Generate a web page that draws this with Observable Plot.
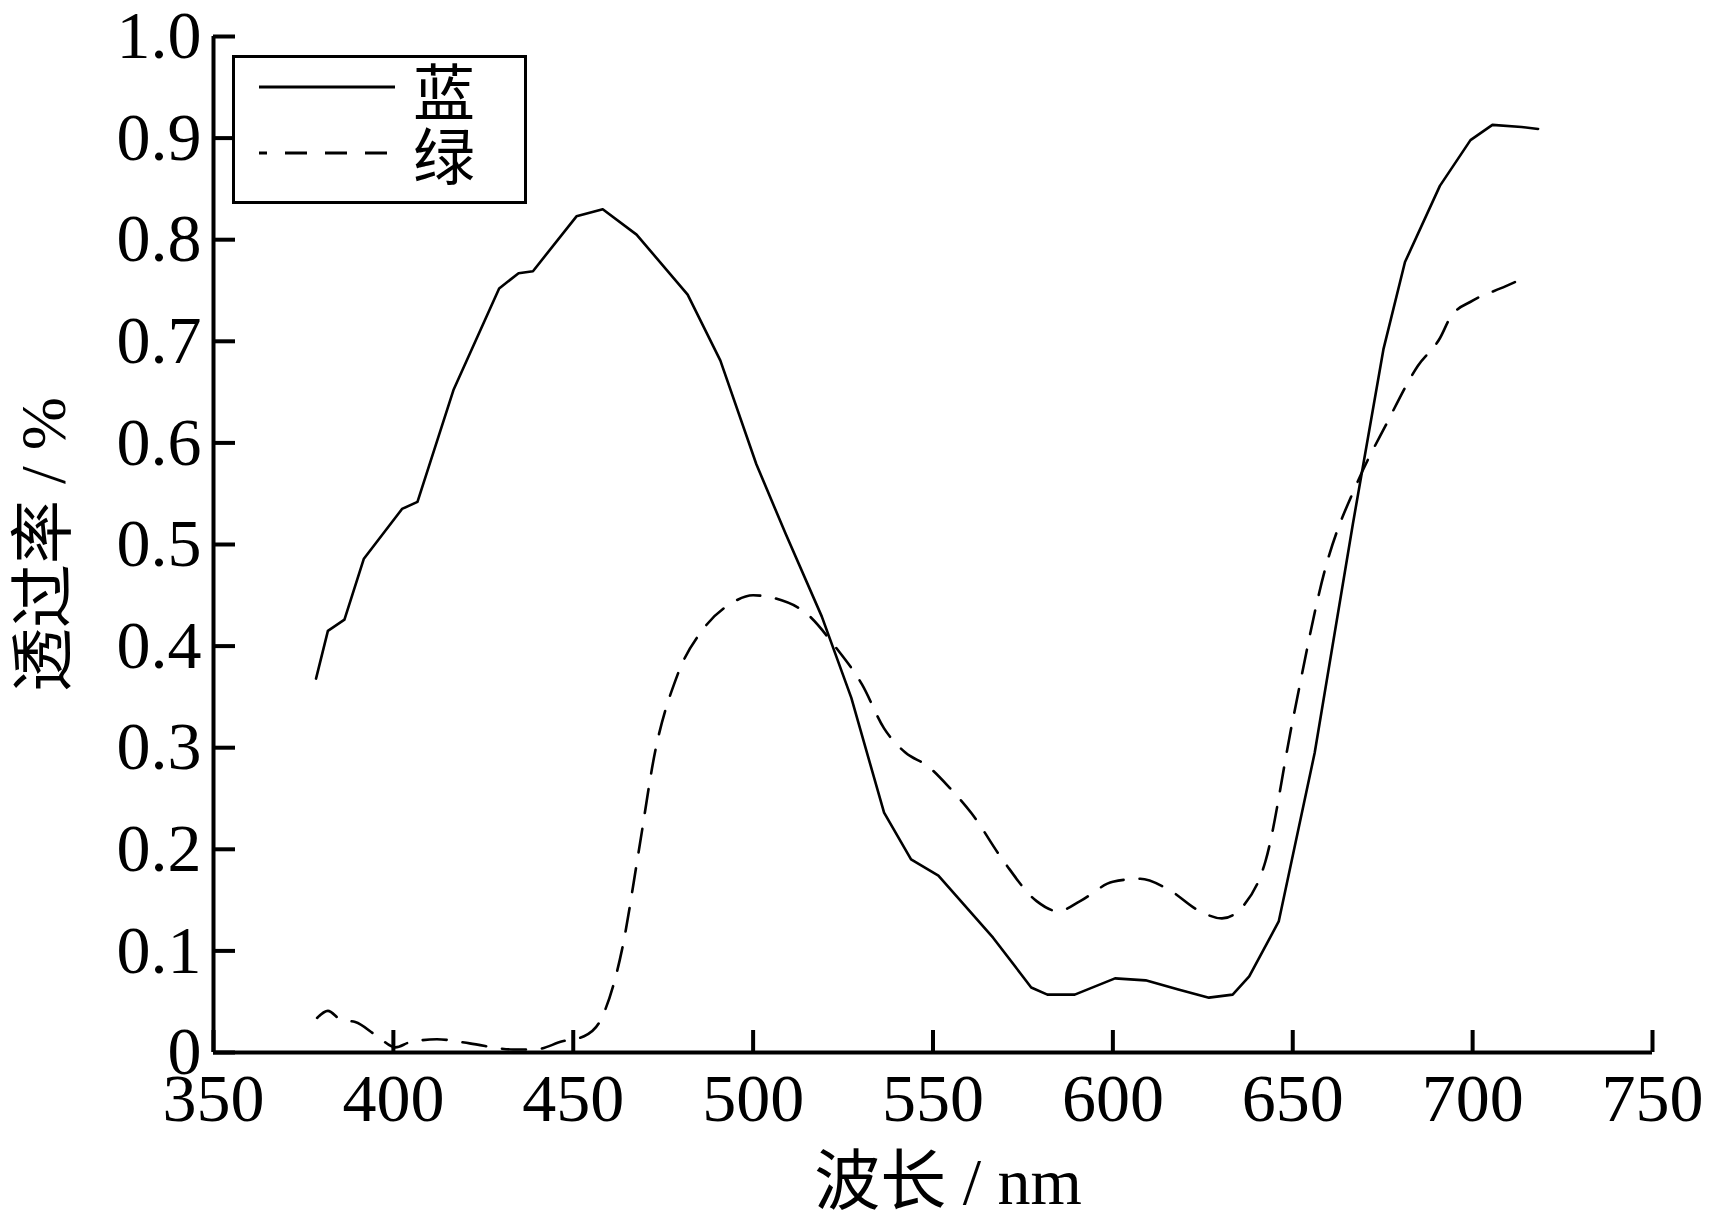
<!DOCTYPE html>
<html><head><meta charset="utf-8">
<script src="https://cdn.jsdelivr.net/npm/d3@7"></script>
<script src="https://cdn.jsdelivr.net/npm/@observablehq/plot@0.6"></script>
<style>
html,body{margin:0;padding:0;background:#fff;}
#wrap{position:relative;width:1710px;height:1227px;}
#legend{position:absolute;left:232px;top:55px;width:289px;height:143px;border:3px solid #000;background:#fff;box-sizing:content-box;}
#legend .lab{position:absolute;left:178px;font-family:"Noto Sans CJK SC";font-size:62px;line-height:62px;color:#000;}
</style></head>
<body><div id="wrap"><div id="legend">
<svg width="170" height="143" style="position:absolute;left:0;top:0">
<line x1="24" x2="160" y1="29" y2="29" stroke="#000" stroke-width="3"/>
<line x1="24" x2="160" y1="95" y2="95" stroke="#000" stroke-width="3" stroke-dasharray="8,18,22,18,22,18,22,18"/>
</svg>
<div class="lab" style="top:0px">蓝</div>
<div class="lab" style="top:64px">绿</div>
</div></div>
<script>
const blueX = [378.5,381.8,386.4,391.8,402.4,406.7,416.7,429.4,434.8,438.8,450.9,458.2,467.6,481.8,490.9,500.9,509.1,519.1,527.3,536.4,543.9,551.5,566.7,577.3,581.8,589.4,600.6,609.1,618.2,626.7,633.3,637.9,646.1,656.1,666.7,675.2,681.2,690.9,699.4,705.5,713.6,718.2];
const blueY = [0.368,0.415,0.426,0.486,0.535,0.542,0.652,0.752,0.767,0.769,0.823,0.830,0.805,0.746,0.681,0.579,0.510,0.429,0.349,0.236,0.190,0.174,0.113,0.064,0.057,0.057,0.073,0.071,0.062,0.054,0.057,0.075,0.129,0.295,0.520,0.692,0.778,0.853,0.898,0.913,0.911,0.909];
const greenX = [378.8,381.8,385.5,389.4,395.5,400.6,404.5,412.1,421.2,433.3,439.4,447.0,453.0,457.6,463.6,468.2,472.7,478.8,486.4,493.9,500,506.1,515.2,522.7,530.3,536.4,542.4,548.5,554.5,560.6,569.7,578.8,584.8,590.9,600,607.6,615.2,624.2,630.3,636.4,642.4,650,659.1,668.2,675.8,684.8,690.9,693.9,700,709.1,715.2];
const greenY = [0.034,0.041,0.032,0.030,0.016,0.005,0.010,0.013,0.009,0.003,0.003,0.011,0.016,0.032,0.102,0.198,0.295,0.370,0.418,0.442,0.450,0.447,0.431,0.400,0.362,0.319,0.295,0.282,0.261,0.236,0.188,0.149,0.139,0.149,0.168,0.171,0.161,0.139,0.132,0.145,0.188,0.327,0.477,0.563,0.617,0.676,0.703,0.724,0.740,0.754,0.764];
const xTicks = [350,400,450,500,550,600,650,700,750];
const yTicks = [0,0.1,0.2,0.3,0.4,0.5,0.6,0.7,0.8,0.9,1.0];
const yTickLabels = ["0","0.1","0.2","0.3","0.4","0.5","0.6","0.7","0.8","0.9","1.0"];
const xTitle = "波长 / nm";
const yTitle = "透过率 / %";

const blue = blueX.map((x,i)=>({x, y: blueY[i]}));
const green = greenX.map((x,i)=>({x, y: greenY[i]}));

const chart = Plot.plot({
  width: 1710, height: 1227,
  marginLeft: 213, marginRight: 58, marginTop: 36, marginBottom: 175,
  style: {fontFamily: "'Liberation Serif', 'Noto Sans CJK SC', serif", fontSize: "68px", color: "#000", background: "#fff"},
  x: {domain: [350, 750]},
  y: {domain: [0, 1]},
  marks: [
    Plot.line(green, {x: "x", y: "y", stroke: "#000", strokeWidth: 2.6, strokeDasharray: "24,16", curve: "monotone-x"}),
    Plot.line(blue, {x: "x", y: "y", stroke: "#000", strokeWidth: 2.6, curve: "linear"}),
    Plot.ruleY([0], {stroke: "#000", strokeWidth: 4}),
    Plot.ruleX([350], {y1: 0, y2: 1, stroke: "#000", strokeWidth: 4}),
    Plot.ruleX(xTicks, {x: d => d, y1: 0, y2: 0, insetTop: -22, stroke: "#000", strokeWidth: 4}),
    Plot.ruleY(yTicks, {y: d => d, x1: 350, x2: 350, insetRight: -22, stroke: "#000", strokeWidth: 4}),
    Plot.axisX(xTicks, {tickSize: 0, tickPadding: 20, label: null, fontSize: 68}),
    Plot.axisY(yTicks, {tickSize: 0, tickPadding: 12, label: null, fontSize: 68, tickFormat: d => yTickLabels[yTicks.indexOf(d)]}),
    Plot.text([xTitle], {frameAnchor: "bottom", dy: 130, dx: 15, fontSize: 66, text: d => d, lineAnchor: "middle", textAnchor: "middle"}),
    Plot.text([yTitle], {frameAnchor: "left", dx: -169, rotate: -90, fontSize: 64, text: d => d, lineAnchor: "middle", textAnchor: "middle"})
  ]
});
document.getElementById("wrap").prepend(chart);
chart.style.position = "absolute"; chart.style.left = "0"; chart.style.top = "0";
</script>
</body></html>
